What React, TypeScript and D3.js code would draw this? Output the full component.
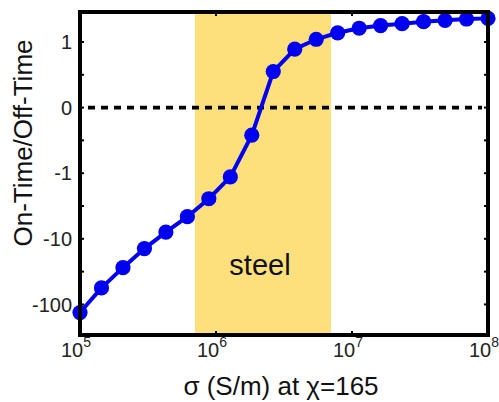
import React from "react";
import * as d3 from "d3";

// Conductivity sweep (S/m), 20 log-spaced samples from 1e5 to 1e8
const sigma: number[] = d3.range(20).map((i) => Math.pow(10, 5 + (3 * i) / 19));

// On-time / off-time ratio at each conductivity
const ratio: number[] = [
  -133, -56, -27.5, -14.1, -7.9, -4.6, -2.45, -1.14, -0.42, 0.55,
  0.89, 1.1, 1.38, 1.62, 1.78, 1.9, 2.04, 2.14, 2.24, 2.29,
];

// Band marking the steel conductivity range
const steelRange: number[] = [7e5, 7e6];

// Y tick values (ratio) and their labels
const yTickValues: number[] = [1, 0, -1, -10, -100];
const yTickLabels: string[] = ["1", "0", "-1", "-10", "-100"];

// X tick exponents
const xTickExponents: number[] = [5, 6, 7, 8];

// Compressed axis: linear within [-1, 1], one decade per unit outside it
const compress = (v: number) =>
  Math.abs(v) <= 1 ? v : Math.sign(v) * (1 + Math.log10(Math.abs(v)));

const W = 499;
const H = 402;
const L = 80;
const R = 488;
const T = 12;
const B = 335;

export default function App() {
  const x = d3.scaleLog().domain([1e5, 1e8]).range([L, R]);
  const y = d3.scaleLinear().domain([-3.466, 1.457]).range([B, T]);

  const pts: [number, number][] = sigma.map((s, i) => [x(s), y(compress(ratio[i]))]);
  const line = d3.line<[number, number]>()(pts) || "";

  const minorY = d3.range(-3, 1.01, 0.5);
  const font = "'Liberation Sans', Arial, sans-serif";
  const blue = "#0000F0";

  return (
    <svg
      width={W}
      height={H}
      style={{ position: "absolute", left: 0, top: 0, background: "#fff" }}
      fontFamily={font}
    >
      {/* steel band */}
      <rect
        x={x(steelRange[0])}
        y={T}
        width={x(steelRange[1]) - x(steelRange[0])}
        height={B - T}
        fill="#FDE07C"
      />
      <text x={260} y={275} fontSize={29} textAnchor="middle" fill="#111">
        steel
      </text>

      {/* zero reference */}
      <line
        x1={L + 8}
        x2={R - 6}
        y1={y(0)}
        y2={y(0)}
        stroke="#000"
        strokeWidth={3.6}
        strokeDasharray="7 6"
      />

      {/* series */}
      <path d={line} fill="none" stroke={blue} strokeWidth={4} />
      {pts.map((p, i) => (
        <circle key={i} cx={p[0]} cy={p[1]} r={7.6} fill={blue} />
      ))}

      {/* ticks */}
      {minorY.map((t) => (
        <g key={"yt" + t}>
          <line x1={L} x2={L + 4} y1={y(t)} y2={y(t)} stroke="#000" strokeWidth={2} />
          <line x1={R} x2={R - 4} y1={y(t)} y2={y(t)} stroke="#000" strokeWidth={2} />
        </g>
      ))}
      {xTickExponents.slice(1, -1).map((e) => (
        <g key={"xt" + e}>
          <line x1={x(10 ** e)} x2={x(10 ** e)} y1={B} y2={B - 4} stroke="#000" strokeWidth={2} />
          <line x1={x(10 ** e)} x2={x(10 ** e)} y1={T} y2={T + 4} stroke="#000" strokeWidth={2} />
        </g>
      ))}

      {/* frame */}
      <rect x={L} y={T} width={R - L} height={B - T} fill="none" stroke="#000" strokeWidth={4} />

      {/* y tick labels */}
      {yTickValues.map((v, i) => (
        <text
          key={"yl" + i}
          x={72}
          y={y(compress(v))}
          dy="0.36em"
          fontSize={20}
          textAnchor="end"
          fill="#222"
        >
          {yTickLabels[i]}
        </text>
      ))}

      {/* x tick labels */}
      {xTickExponents.map((e) => (
        <text key={"xl" + e} x={x(10 ** e) - 4} y={357} fontSize={20} textAnchor="middle" fill="#222">
          10
          <tspan fontSize={14} dy={-10}>
            {e}
          </tspan>
        </text>
      ))}

      {/* axis titles */}
      <text x={281} y={395} fontSize={26} textAnchor="middle" fill="#111">
        σ (S/m) at χ=165
      </text>
      <text
        transform={`translate(32, 143) rotate(-90)`}
        fontSize={26}
        textAnchor="middle"
        fill="#111"
      >
        On-Time/Off-Time
      </text>
    </svg>
  );
}
